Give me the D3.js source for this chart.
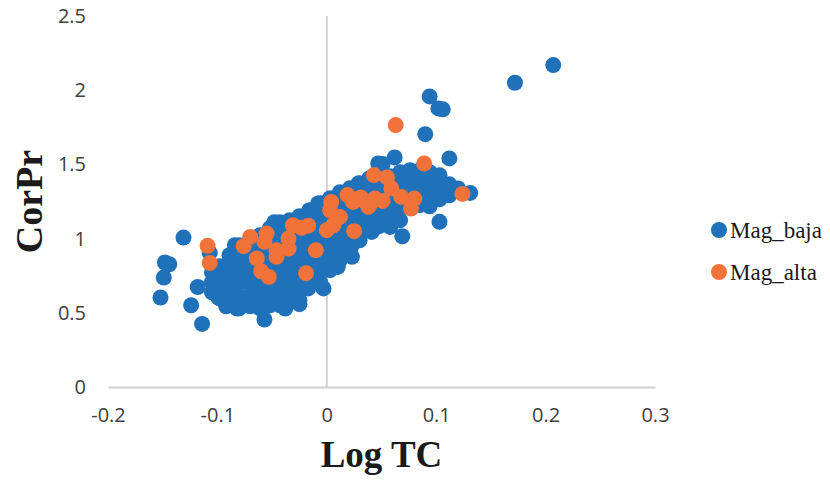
<!DOCTYPE html>
<html>
<head>
<meta charset="utf-8">
<script src="https://cdn.jsdelivr.net/npm/d3@7"></script>
<style>
  body { margin: 0; background: #fff; }
  svg { display: block; }
</style>
</head>
<body>
<svg id="chart" width="830" height="484"></svg>
<script>
// series names and tick labels
var seriesNames = ["Mag_baja", "Mag_alta"];
var xTicks = [-0.2, -0.1, 0, 0.1, 0.2, 0.3];
var yTicks = [0, 0.5, 1, 1.5, 2, 2.5];

// Mag_baja points [Log TC, CorPr]
var magBaja = [
  // scattered points
  [-0.131, 1.007], [-0.148, 0.839], [-0.144, 0.827], [-0.149, 0.738], [-0.152, 0.603],
  [-0.118, 0.674], [-0.124, 0.551], [-0.114, 0.425], [-0.107, 0.904], [-0.084, 0.955],
  [-0.048, 1.111], [-0.099, 0.603], [-0.092, 0.544], [-0.082, 0.529], [-0.057, 0.455],
  [-0.038, 0.529], [-0.025, 0.558], [-0.017, 0.664], [-0.003, 0.664], [0.010, 0.809],
  [0.023, 0.877], [0.023, 0.955], [0.069, 1.016], [0.103, 1.113], [-0.008, 1.237],
  [0.029, 1.372], [0.047, 1.506], [0.051, 1.502], [0.062, 1.547], [0.090, 1.704],
  [0.112, 1.540], [0.120, 1.338], [0.131, 1.308], [0.094, 1.958], [0.102, 1.877],
  [0.106, 1.871], [0.172, 2.050], [0.207, 2.169], [0.041, 1.045], [0.058, 1.079],
  [-0.016, 1.191],
  // dense band
  [-0.105, 0.773], [-0.105, 0.706], [-0.105, 0.638],
  [-0.098, 0.814], [-0.098, 0.740], [-0.098, 0.666], [-0.098, 0.598],
  [-0.089, 0.888], [-0.089, 0.807], [-0.089, 0.719], [-0.089, 0.638], [-0.089, 0.551],
  [-0.080, 0.955], [-0.080, 0.874], [-0.080, 0.787], [-0.080, 0.699], [-0.080, 0.611], [-0.080, 0.530],
  [-0.070, 0.989], [-0.070, 0.915], [-0.070, 0.841], [-0.070, 0.767], [-0.070, 0.692], [-0.070, 0.618], [-0.070, 0.544],
  [-0.061, 1.023], [-0.061, 0.942], [-0.061, 0.861], [-0.061, 0.780], [-0.061, 0.699], [-0.061, 0.618], [-0.061, 0.530],
  [-0.052, 1.070], [-0.052, 0.996], [-0.052, 0.922], [-0.052, 0.848], [-0.052, 0.773], [-0.052, 0.699], [-0.052, 0.625], [-0.052, 0.551],
  [-0.043, 1.111], [-0.043, 1.030], [-0.043, 0.949], [-0.043, 0.868], [-0.043, 0.787], [-0.043, 0.706], [-0.043, 0.625], [-0.043, 0.551],
  [-0.034, 1.124], [-0.034, 1.050], [-0.034, 0.976], [-0.034, 0.901], [-0.034, 0.827], [-0.034, 0.746], [-0.034, 0.666], [-0.034, 0.585],
  [-0.025, 1.151], [-0.025, 1.070], [-0.025, 0.989], [-0.025, 0.908], [-0.025, 0.827], [-0.025, 0.746], [-0.025, 0.666], [-0.025, 0.585],
  [-0.016, 1.111], [-0.016, 1.030], [-0.016, 0.949], [-0.016, 0.868], [-0.016, 0.780], [-0.016, 0.686],
  [-0.006, 1.238], [-0.006, 1.164], [-0.006, 1.090], [-0.006, 1.016], [-0.006, 0.935], [-0.006, 0.861], [-0.006, 0.787], [-0.006, 0.706],
  [0.003, 1.272], [0.003, 1.191], [0.003, 1.111], [0.003, 1.030], [0.003, 0.949], [0.003, 0.868], [0.003, 0.787],
  [0.012, 1.313], [0.012, 1.238], [0.012, 1.164], [0.012, 1.090], [0.012, 1.016], [0.012, 0.935], [0.012, 0.854],
  [0.021, 1.339], [0.021, 1.259], [0.021, 1.178], [0.021, 1.097], [0.021, 1.009], [0.021, 0.922],
  [0.030, 1.373], [0.030, 1.299], [0.030, 1.225], [0.030, 1.144], [0.030, 1.063], [0.030, 0.989],
  [0.039, 1.407], [0.039, 1.326], [0.039, 1.245], [0.039, 1.158], [0.039, 1.070],
  [0.048, 1.461], [0.048, 1.387], [0.048, 1.313], [0.048, 1.238], [0.048, 1.164], [0.048, 1.084],
  [0.058, 1.420], [0.058, 1.339], [0.058, 1.259], [0.058, 1.178], [0.058, 1.111],
  [0.067, 1.447], [0.067, 1.366], [0.067, 1.286], [0.067, 1.205], [0.067, 1.124],
  [0.076, 1.461], [0.076, 1.380], [0.076, 1.299], [0.076, 1.218],
  [0.085, 1.461], [0.085, 1.380], [0.085, 1.299], [0.085, 1.225],
  [0.094, 1.447], [0.094, 1.366], [0.094, 1.286], [0.094, 1.218],
  [0.103, 1.427], [0.103, 1.346], [0.103, 1.265],
  [0.112, 1.366], [0.112, 1.292]
];

// Mag_alta points
var magAlta = [
  [-0.109, 0.951], [-0.107, 0.836], [-0.076, 0.949], [-0.070, 1.011], [-0.055, 1.034],
  [-0.057, 0.978], [-0.046, 0.922], [-0.046, 0.877], [-0.064, 0.866], [-0.060, 0.780],
  [-0.053, 0.742], [-0.035, 1.001], [-0.035, 0.933], [-0.031, 1.090], [-0.023, 1.073],
  [-0.017, 1.087], [-0.010, 0.922], [-0.019, 0.767], [0.000, 1.057], [0.006, 1.090],
  [0.009, 1.136], [0.003, 1.191], [0.004, 1.247], [0.012, 1.146], [0.019, 1.293],
  [0.024, 1.247], [0.033, 1.259], [0.039, 1.225], [0.044, 1.270], [0.025, 1.050],
  [0.043, 1.428], [0.055, 1.412], [0.059, 1.338], [0.068, 1.281], [0.080, 1.270],
  [0.077, 1.203], [0.031, 1.277], [0.051, 1.254], [0.038, 1.214], [0.063, 1.765],
  [0.089, 1.506], [0.124, 1.301]
];

var colors = ["#1f71b9", "#f1733a"];

var svg = d3.select("#chart");
var plotLeft = 108, plotRight = 655, plotTop = 16, plotBottom = 387;

var x = d3.scaleLinear().domain([-0.2, 0.3]).range([plotLeft, plotRight]);
var y = d3.scaleLinear().domain([0, 2.5]).range([plotBottom, plotTop]);

var tickFont = "'Open Sans', sans-serif";

// x axis along y = 0
var xAxis = svg.append("g")
  .attr("transform", "translate(0," + y(0) + ")")
  .call(d3.axisBottom(x).tickValues(xTicks).tickSize(0).tickSizeOuter(0).tickPadding(21)
    .tickFormat(function (d) { return d; }));
xAxis.select(".domain").attr("stroke", "#d0d0d0").attr("stroke-width", 2);
xAxis.selectAll("text").attr("font-family", tickFont).attr("font-size", 20).attr("fill", "#404040");

// y labels at the left edge
var yAxis = svg.append("g")
  .attr("transform", "translate(" + plotLeft + ",0)")
  .call(d3.axisLeft(y).tickValues(yTicks).tickSize(0).tickPadding(22)
    .tickFormat(function (d) { return d; }));
yAxis.select(".domain").remove();
yAxis.selectAll("text").attr("font-family", tickFont).attr("font-size", 20).attr("fill", "#404040");

// vertical axis line at x = 0
svg.append("line")
  .attr("x1", x(0)).attr("x2", x(0))
  .attr("y1", y(2.5)).attr("y2", y(0))
  .attr("stroke", "#d0d0d0").attr("stroke-width", 2);

// points
svg.append("g").selectAll("circle")
  .data(magBaja).enter().append("circle")
  .attr("cx", function (d) { return x(d[0]); })
  .attr("cy", function (d) { return y(d[1]); })
  .attr("r", 8)
  .attr("fill", colors[0]);

svg.append("g").selectAll("circle")
  .data(magAlta).enter().append("circle")
  .attr("cx", function (d) { return x(d[0]); })
  .attr("cy", function (d) { return y(d[1]); })
  .attr("r", 8)
  .attr("fill", colors[1]);

// axis titles
svg.append("text")
  .attr("x", (plotLeft + plotRight) / 2).attr("y", 467)
  .attr("text-anchor", "middle")
  .attr("font-family", "'Liberation Serif', 'Times New Roman', serif")
  .attr("font-weight", "bold").attr("font-size", 37)
  .attr("fill", "#1a1a1a")
  .text("Log TC");

svg.append("text")
  .attr("transform", "translate(42," + (plotTop + plotBottom) / 2 + ") rotate(-90)")
  .attr("text-anchor", "middle")
  .attr("font-family", "'Liberation Serif', 'Times New Roman', serif")
  .attr("font-weight", "bold").attr("font-size", 38)
  .attr("fill", "#1a1a1a")
  .text("CorPr");

// legend
var legend = svg.append("g").selectAll("g")
  .data(seriesNames).enter().append("g")
  .attr("transform", function (d, i) { return "translate(719," + (230 + i * 42) + ")"; });
legend.append("circle").attr("r", 8).attr("fill", function (d, i) { return colors[i]; });
legend.append("text")
  .attr("x", 11).attr("y", 8)
  .attr("font-family", "'Liberation Serif', 'Times New Roman', serif")
  .attr("font-size", 23).attr("fill", "#1a1a1a")
  .text(function (d) { return d; });
</script>
</body>
</html>
